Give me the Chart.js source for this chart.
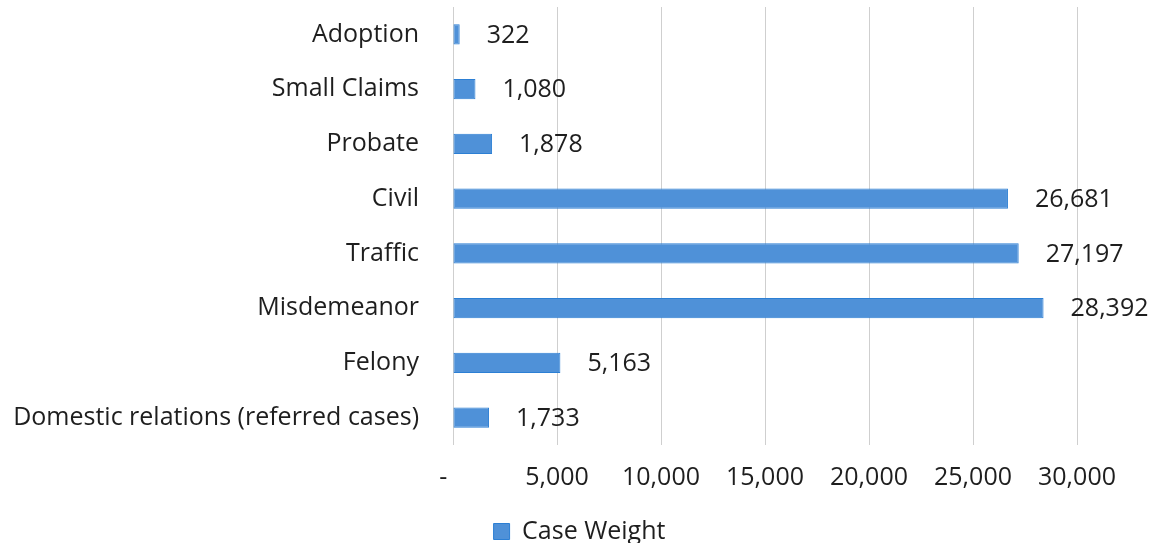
<!DOCTYPE html>
<html>
<head>
<meta charset="utf-8">
<script src="https://cdn.jsdelivr.net/npm/chart.js@4/dist/chart.umd.min.js"></script>
<style>
html,body{margin:0;padding:0;background:#fff;}
#wrap{width:1159px;height:543px;position:relative;}
</style>
</head>
<body>
<div id="wrap"><canvas id="c" width="1159" height="543"></canvas></div>
<script>
const categories = ["Adoption","Small Claims","Probate","Civil","Traffic","Misdemeanor","Felony","Domestic relations (referred cases)"];
const caseWeight = [322,1080,1878,26681,27197,28392,5163,1733];
const xTickValues = [0,5000,10000,15000,20000,25000,30000];
const xTickLabels = ["-   ","5,000","10,000","15,000","20,000","25,000","30,000"];
const seriesName = "Case Weight";

const FONT = "'Open Sans', sans-serif";

const valueLabels = {
  id: 'valueLabels',
  afterDatasetsDraw(chart) {
    const ctx = chart.ctx;
    const meta = chart.getDatasetMeta(0);
    ctx.save();
    ctx.font = "25px " + FONT;
    ctx.fillStyle = "#1e1e1e";
    ctx.textAlign = "left";
    ctx.textBaseline = "middle";
    meta.data.forEach((bar, i) => {
      const v = chart.data.datasets[0].data[i];
      ctx.fillText(v.toLocaleString('en-US'), bar.x + 27, bar.y + 1);
    });
    ctx.restore();
  }
};

new Chart(document.getElementById('c'), {
  type: 'bar',
  data: {
    labels: categories,
    datasets: [{
      label: seriesName,
      data: caseWeight,
      backgroundColor: '#4f91d8',
      borderColor: '#2c7fd4',
      borderWidth: 1,
      borderSkipped: false,
      barPercentage: 0.37,
      categoryPercentage: 1.0
    }]
  },
  options: {
    indexAxis: 'y',
    responsive: false,
    animation: false,
    events: [],
    layout: { padding: { top: 7, right: 0, left: 0, bottom: -11 } },
    scales: {
      x: {
        min: 0,
        max: 30000,
        afterBuildTicks(scale) { scale.ticks = xTickValues.map(v => ({ value: v })); },
        afterFit(scale) {
          scale.paddingLeft = 0;
          scale.paddingRight = 82;
          scale.height += 8;
        },
        ticks: {
          padding: 18,
          color: '#1e1e1e',
          font: { family: FONT, size: 25 },
          maxRotation: 0,
          autoSkip: false,
          callback(value) { const i = xTickValues.indexOf(value); return i >= 0 ? xTickLabels[i] : ''; }
        },
        grid: { color: '#cfcfcf', lineWidth: 1, drawTicks: false },
        border: { display: false }
      },
      y: {
        afterFit(scale) {
          scale.width = 453;
          scale.paddingTop = 0;
          scale.paddingBottom = 0;
        },
        ticks: {
          padding: 26,
          color: '#1e1e1e',
          font: { family: FONT, size: 25 },
          autoSkip: false
        },
        grid: { display: false },
        border: { display: false }
      }
    },
    plugins: {
      legend: {
        position: 'bottom',
        labels: {
          color: '#1e1e1e',
          font: { family: FONT, size: 25 },
          boxWidth: 16,
          boxHeight: 16,
          padding: 0
        }
      },
      tooltip: { enabled: false }
    }
  },
  plugins: [valueLabels]
});
</script>
</body>
</html>
